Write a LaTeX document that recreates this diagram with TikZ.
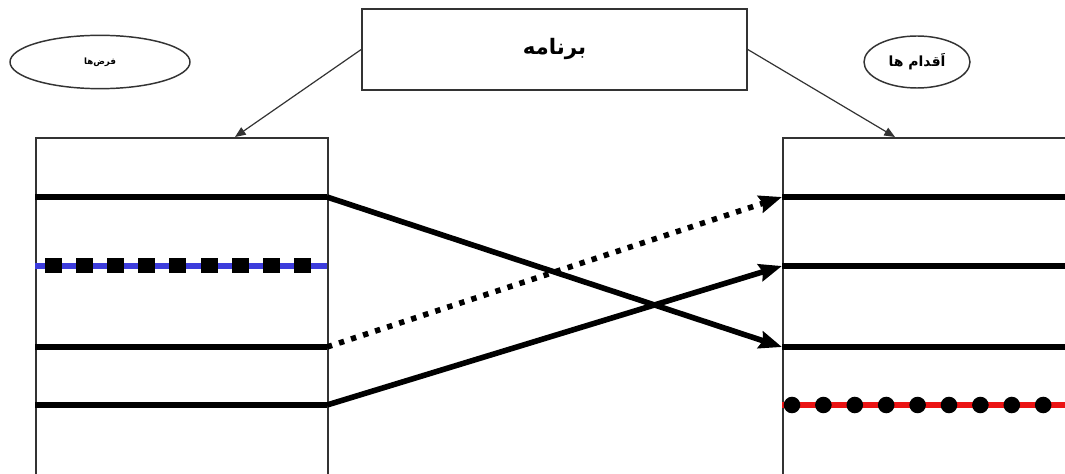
\documentclass[tikz,border=0pt]{standalone}
\usepackage{fontspec}
\newfontfamily\arabicfont[Script=Arabic]{DejaVu Sans}
\TeXXeTstate=1
\usetikzlibrary{arrows.meta,shapes.geometric}
\begin{document}
\begin{tikzpicture}[x=0.75pt,y=-0.75pt,
  frame/.style={draw=black!80,line width=1.2pt},
  hline/.style={line width=3.9pt},
  cross/.style={line width=4.2pt,-{Stealth[length=17pt,width=13pt,inset=2pt]}},
  thinarrow/.style={draw=black!80,line width=0.9pt,-{Triangle[length=8pt,width=6.5pt]}},
  oval/.style={ellipse,draw=black!80,line width=1.1pt,inner sep=0pt}]
\path[use as bounding box,clip] (0,0) rectangle (1065,474);
\fill[white] (0,0) rectangle (1065,474);

% top box and ovals
\node[frame,minimum width=288.75pt,minimum height=60.75pt,font=\arabicfont\bfseries\fontsize{16}{19}\selectfont] (prog) at (554.5,49.5) {\beginR برنامه\endR};
\node[oval,minimum width=135pt,minimum height=40pt,font=\arabicfont\bfseries\fontsize{6.5}{8}\selectfont] (assump) at (100,62) {\beginR فرض‌ها\endR};
\node[oval,minimum width=79.5pt,minimum height=39pt,font=\arabicfont\bfseries\fontsize{10.5}{12}\selectfont] (acts) at (917,62) {\beginR اَقدام ها\endR};

% big frames
\node[frame,anchor=north west,minimum width=219pt,minimum height=300pt] (L) at (35,137) {};
\node[frame,anchor=north west,minimum width=240pt,minimum height=300pt] (R) at (782,137) {};

\coordinate (tL) at (235,137);
\coordinate (tR) at (895,137);
\draw[thinarrow] (prog.west) -- (tL);
\draw[thinarrow] (prog.east) -- (tR);

% left lines
\coordinate (L1a) at (35,197); \coordinate (L1b) at (327,197);
\coordinate (L2a) at (35,266); \coordinate (L2b) at (327,266);
\coordinate (L3a) at (35,347); \coordinate (L3b) at (327,347);
\coordinate (L4a) at (35,405); \coordinate (L4b) at (327,405);
% right lines
\coordinate (R1a) at (782,197); \coordinate (R1b) at (1065,197);
\coordinate (R2a) at (782,266); \coordinate (R2b) at (1065,266);
\coordinate (R3a) at (782,347); \coordinate (R3b) at (1065,347);
\coordinate (R4a) at (782,405); \coordinate (R4b) at (1065,405);

\draw[hline] (L1a) -- (L1b);
\draw[hline] (L3a) -- (L3b);
\draw[hline] (L4a) -- (L4b);
\draw[line width=3.9pt,draw={rgb,255:red,60;green,60;blue,220}] (L2a) -- (L2b);
\foreach \i in {0,...,8}
  \fill ({53+31.2*\i},266) +(-8.5,-7.5) rectangle +(8.5,7.5);

\draw[hline] (R1a) -- (R1b);
\draw[hline] (R2a) -- (R2b);
\draw[hline] (R3a) -- (R3b);
\draw[line width=4.5pt,draw={rgb,255:red,235;green,20;blue,20}] (R4a) -- (R4b);
\foreach \i in {0,...,8}
  \fill ({792+31.4*\i},405) circle (6.2pt);

% crossing connectors
\draw[cross] (L1b) -- (R3a);
\draw[cross,dash pattern=on 4pt off 5.5pt] (L3b) -- (R1a);
\draw[cross] (L4b) -- (R2a);
\end{tikzpicture}
\end{document}
